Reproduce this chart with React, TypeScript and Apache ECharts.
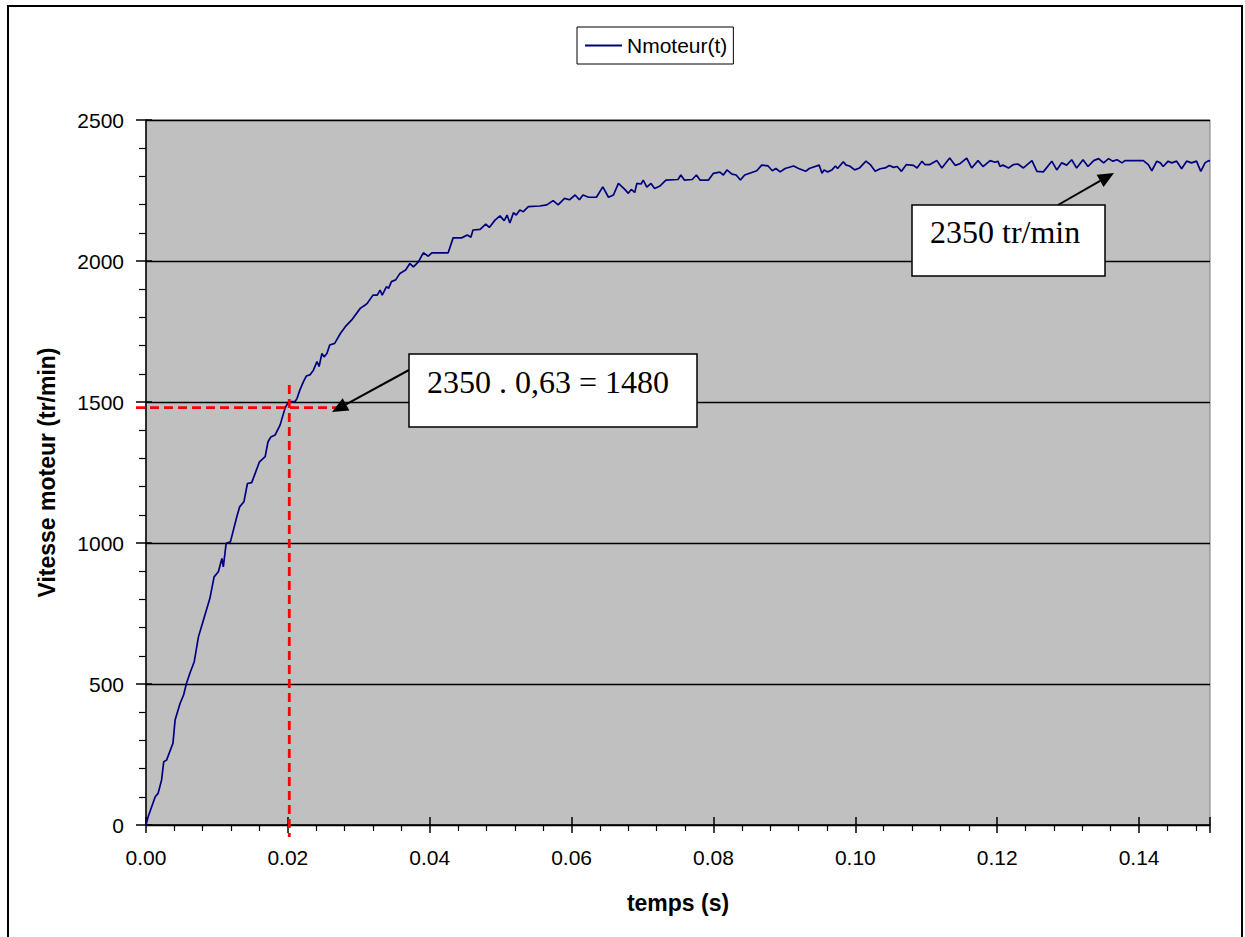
import React, { useEffect, useRef } from "react";
import * as echarts from "echarts";

const times = [
  0.0, 0.0003, 0.0013, 0.0017, 0.0022, 0.0025, 0.0029, 0.0038, 0.0041, 0.0048,
  0.0053, 0.0057, 0.0062, 0.0068, 0.0074, 0.0081, 0.009, 0.0096, 0.0102, 0.0107,
  0.0109, 0.0113, 0.0119, 0.0128, 0.0132, 0.0138, 0.0143, 0.0149, 0.016, 0.0168,
  0.0172, 0.0176, 0.0182, 0.0189, 0.0196, 0.0201, 0.021, 0.0213, 0.0217, 0.0222,
  0.0226, 0.0231, 0.0236, 0.0241, 0.0244, 0.0248, 0.0251, 0.0255, 0.0259, 0.0266,
  0.0274, 0.0281, 0.029, 0.0302, 0.0309, 0.0312, 0.032, 0.0326, 0.033, 0.0333,
  0.0339, 0.0342, 0.0346, 0.0352, 0.0358, 0.0366, 0.0372, 0.0377, 0.0384, 0.0391,
  0.0398, 0.0403, 0.0426, 0.0433, 0.0445, 0.0453, 0.0458, 0.0461, 0.0471, 0.0479,
  0.0484, 0.0492, 0.0499, 0.0505, 0.0509, 0.0513, 0.0518, 0.0522, 0.0527, 0.0532,
  0.0539, 0.0555, 0.0565, 0.0574, 0.0581, 0.059, 0.0597, 0.0605, 0.0611, 0.0616,
  0.0624, 0.0635, 0.0644, 0.0652, 0.0659, 0.0666, 0.0675, 0.068, 0.0684, 0.0689,
  0.0692, 0.0698, 0.0701, 0.0706, 0.0712, 0.0717, 0.0724, 0.0733, 0.075, 0.0754,
  0.0759, 0.077, 0.0776, 0.0781, 0.0793, 0.08, 0.0809, 0.0814, 0.0819, 0.0826,
  0.0832, 0.0838, 0.0844, 0.0861, 0.0868, 0.0877, 0.0883, 0.0888, 0.0894, 0.0901,
  0.0913, 0.092, 0.093, 0.0935, 0.0949, 0.0953, 0.0956, 0.0961, 0.0967, 0.0972,
  0.0975, 0.0983, 0.0987, 0.0992, 0.0999, 0.1006, 0.1015, 0.1021, 0.1028, 0.1035,
  0.1042, 0.1048, 0.1054, 0.1059, 0.1065, 0.1072, 0.1082, 0.1087, 0.1094, 0.1098,
  0.1105, 0.1115, 0.1122, 0.1133, 0.1141, 0.1148, 0.1157, 0.1164, 0.1173, 0.118,
  0.119, 0.1197, 0.1201, 0.1204, 0.1208, 0.1216, 0.1223, 0.1229, 0.1237, 0.1249,
  0.1256, 0.1265, 0.1277, 0.1284, 0.1291, 0.1298, 0.1305, 0.1312, 0.1321, 0.1328,
  0.1336, 0.1343, 0.135, 0.1357, 0.1363, 0.1369, 0.1376, 0.138, 0.1406, 0.1413,
  0.1418, 0.1425, 0.143, 0.1434, 0.1441, 0.1446, 0.1453, 0.146, 0.1467, 0.1474,
  0.1481, 0.1487, 0.1493, 0.1498, 0.15,
];

const speeds = [
  0, 29, 100, 112, 160, 224, 230, 290, 372, 431,
  461, 502, 539, 579, 668, 727, 803, 880, 898, 945,
  915, 999, 1004, 1093, 1128, 1146, 1211, 1214, 1288, 1306,
  1359, 1376, 1383, 1418, 1478, 1501, 1501, 1513, 1543, 1572,
  1592, 1596, 1613, 1643, 1626, 1672, 1660, 1672, 1702, 1708,
  1743, 1767, 1791, 1832, 1844, 1850, 1879, 1879, 1897, 1879,
  1909, 1903, 1927, 1933, 1956, 1968, 1991, 1979, 1997, 2029,
  2017, 2029, 2029, 2082, 2082, 2092, 2084, 2110, 2112, 2131,
  2119, 2145, 2160, 2143, 2163, 2135, 2171, 2163, 2181, 2175,
  2193, 2195, 2199, 2214, 2199, 2222, 2217, 2234, 2217, 2234,
  2226, 2226, 2263, 2226, 2234, 2275, 2254, 2240, 2254, 2243,
  2275, 2273, 2287, 2262, 2275, 2257, 2265, 2287, 2289, 2305,
  2287, 2289, 2305, 2287, 2287, 2311, 2315, 2305, 2323, 2308,
  2305, 2287, 2305, 2320, 2340, 2337, 2320, 2328, 2316, 2328,
  2337, 2328, 2318, 2328, 2340, 2311, 2323, 2316, 2323, 2337,
  2328, 2352, 2340, 2337, 2323, 2330, 2354, 2342, 2318, 2327,
  2330, 2339, 2332, 2335, 2318, 2342, 2339, 2330, 2354, 2342,
  2342, 2356, 2330, 2365, 2339, 2346, 2365, 2330, 2356, 2335,
  2356, 2350, 2354, 2335, 2340, 2330, 2342, 2344, 2330, 2356,
  2318, 2316, 2354, 2323, 2348, 2340, 2359, 2330, 2359, 2335,
  2356, 2363, 2348, 2363, 2354, 2359, 2348, 2356, 2356, 2342,
  2320, 2354, 2348, 2335, 2354, 2348, 2354, 2327, 2354, 2348,
  2354, 2318, 2348, 2356, 2354,
];

const seriesName = "Nmoteur(t)";
const xName = "temps (s)";
const yName = "Vitesse moteur (tr/min)";
const noteTau = "2350 . 0,63 = 1480";
const noteFinal = "2350 tr/min";
const tauTime = 0.0202;
const tauSpeed = 1480;

const SANS = "'Liberation Sans', Arial, sans-serif";
const SERIF = "'Liberation Serif', 'Times New Roman', serif";

function arrow(x1: number, y1: number, x2: number, y2: number) {
  const dx = x2 - x1;
  const dy = y2 - y1;
  const L = Math.sqrt(dx * dx + dy * dy);
  const ux = dx / L;
  const uy = dy / L;
  const hl = 16;
  const hw = 7;
  const bx = x2 - ux * hl;
  const by = y2 - uy * hl;
  const nx = -uy * hw;
  const ny = ux * hw;
  return [
    {
      type: "line",
      shape: { x1, y1, x2: bx, y2: by },
      style: { stroke: "#000", lineWidth: 2 },
      z: 100,
    },
    {
      type: "polygon",
      shape: { points: [[x2, y2], [bx + nx, by + ny], [bx - nx, by - ny]] },
      style: { fill: "#000" },
      z: 100,
    },
  ];
}

export default function App() {
  const ref = useRef<HTMLDivElement>(null);

  useEffect(() => {
    if (!ref.current) return;
    const chart = echarts.init(ref.current, undefined, { renderer: "svg" });
    const data = times.map((t, i) => [t, speeds[i]]);

    chart.setOption({
      animation: false,
      backgroundColor: "#ffffff",
      grid: {
        left: 146,
        top: 120,
        width: 1064,
        height: 705,
        show: true,
        backgroundColor: "#c0c0c0",
        borderColor: "#808080",
        borderWidth: 1,
        containLabel: false,
        outerBoundsMode: "none",
      },
      legend: {
        data: [seriesName],
        left: 577,
        top: 27,
        padding: [8, 6, 8, 8],
        icon: "rect",
        itemWidth: 37,
        itemHeight: 2,
        itemGap: 6,
        itemStyle: { color: "#000080" },
        borderColor: "#000",
        borderWidth: 1,
        backgroundColor: "#fff",
        textStyle: { fontFamily: SANS, fontSize: 21, color: "#000" },
      },
      xAxis: [
        {
          type: "value",
          min: 0,
          max: 0.15,
          interval: 0.02,
          name: xName,
          nameLocation: "middle",
          nameGap: 66,
          nameTextStyle: { fontFamily: SANS, fontSize: 23, fontWeight: "bold", color: "#000" },
          axisLine: { show: true, onZero: false, lineStyle: { color: "#000", width: 1.5 } },
          axisTick: { show: true, length: 8, lineStyle: { color: "#000", width: 1.5 } },
          minorTick: { show: true, splitNumber: 5, length: 6, lineStyle: { color: "#000", width: 1.2 } },
          splitLine: { show: false },
          axisLabel: {
            showMaxLabel: false,
            margin: 22,
            fontFamily: SANS,
            fontSize: 21,
            color: "#000",
            formatter: (v: number) => v.toFixed(2),
          },
        },
        {
          type: "value",
          min: 0,
          max: 0.15,
          interval: 0.02,
          position: "bottom",
          axisLine: { show: false },
          axisTick: { show: true, inside: true, length: 8, lineStyle: { color: "#000", width: 1.5 } },
          axisLabel: { show: false },
          splitLine: { show: false },
        },
      ],
      yAxis: [
        {
          type: "value",
          min: 0,
          max: 2500,
          interval: 500,
          position: "left",
          name: yName,
          nameLocation: "middle",
          nameGap: 88,
          nameTextStyle: { fontFamily: SANS, fontSize: 23, fontWeight: "bold", color: "#000" },
          axisLine: { show: true, lineStyle: { color: "#000", width: 1.5 } },
          axisTick: { show: true, length: 10, lineStyle: { color: "#000", width: 1.5 } },
          minorTick: { show: true, splitNumber: 5, length: 7, lineStyle: { color: "#000", width: 1.2 } },
          splitLine: { show: true, lineStyle: { color: "#000", width: 1.3 } },
          axisLabel: {
            margin: 22,
            fontFamily: SANS,
            fontSize: 21,
            color: "#000",
            formatter: (v: number) => String(v),
          },
        },
        {
          type: "value",
          min: 0,
          max: 2500,
          interval: 500,
          position: "left",
          offset: 0,
          axisLine: { show: false },
          axisTick: { show: true, inside: true, length: 6, lineStyle: { color: "#000", width: 1.5 } },
          axisLabel: { show: false },
          splitLine: { show: false },
        },
      ],
      series: [
        {
          name: seriesName,
          type: "line",
          xAxisIndex: 0,
          yAxisIndex: 0,
          data,
          symbol: "none",
          lineStyle: { color: "#000080", width: 1.7 },
          itemStyle: { color: "#000080" },
          z: 5,
        },
      ],
    });

    const p0 = chart.convertToPixel({ xAxisIndex: 0, yAxisIndex: 0 }, [tauTime, tauSpeed]) as number[];
    const vx = p0[0];
    const hy = p0[1];
    const dash = { stroke: "#ff0000", lineWidth: 2.8, lineDash: [9, 5] };

    chart.setOption({
      graphic: [
        {
          type: "rect",
          shape: { x: 8, y: 6, width: 1234, height: 950 },
          style: { fill: "none", stroke: "#000", lineWidth: 2 },
          silent: true,
          z: 0,
        },
        {
          type: "line",
          shape: { x1: vx, y1: 385, x2: vx, y2: 837 },
          style: dash,
          z: 50,
        },
        {
          type: "line",
          shape: { x1: 136, y1: hy, x2: 345, y2: hy },
          style: dash,
          z: 50,
        },
        ...arrow(409, 370, 332, 412),
        ...arrow(1058, 205, 1114, 173),
        {
          type: "rect",
          shape: { x: 409, y: 354, width: 288, height: 73 },
          style: { fill: "#fff", stroke: "#000", lineWidth: 1.5 },
          z: 101,
        },
        {
          type: "text",
          x: 427,
          y: 382,
          style: {
            text: noteTau,
            font: `32px ${SERIF}`,
            fill: "#000",
            verticalAlign: "middle",
            align: "left",
          },
          z: 102,
        },
        {
          type: "rect",
          shape: { x: 912, y: 205, width: 193, height: 71 },
          style: { fill: "#fff", stroke: "#000", lineWidth: 1.5 },
          z: 101,
        },
        {
          type: "text",
          x: 930,
          y: 232,
          style: {
            text: noteFinal,
            font: `32px ${SERIF}`,
            fill: "#000",
            verticalAlign: "middle",
            align: "left",
          },
          z: 102,
        },
      ],
    });

    return () => chart.dispose();
  }, []);

  return (
    <div
      ref={ref}
      style={{ position: "absolute", left: 0, top: 0, width: 1245, height: 937, background: "#fff" }}
    />
  );
}
